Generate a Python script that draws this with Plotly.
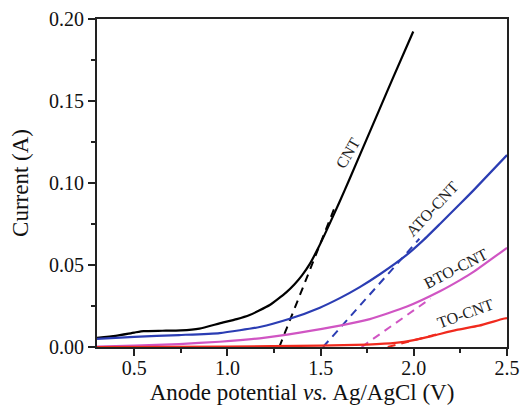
import plotly.graph_objects as go

# ---- data ----
cnt_x = [0.3, 0.4, 0.5, 0.55, 0.65, 0.75, 0.85, 0.958, 1.05, 1.119, 1.17, 1.227, 1.27, 1.317, 1.36, 1.40,
         1.442, 1.487, 1.532, 1.6, 1.657, 1.728, 1.818, 1.89, 1.997]
cnt_y = [0.0055, 0.0068, 0.0088, 0.0097, 0.0099, 0.0101, 0.0112, 0.0144, 0.0170, 0.0195, 0.0222, 0.0256,
         0.0292, 0.0335, 0.0383, 0.0437, 0.0507, 0.0603, 0.0711, 0.0881, 0.1029, 0.1217, 0.1455, 0.1646, 0.1924]

ato_x = [0.3, 0.5, 0.74, 0.958, 1.173, 1.334, 1.496, 1.603, 1.71, 1.82, 1.96, 2.05, 2.14, 2.25, 2.32, 2.5]
ato_y = [0.005, 0.0062, 0.0073, 0.0085, 0.0122, 0.0172, 0.0240, 0.0298, 0.0365, 0.0445, 0.0560, 0.0650,
         0.0750, 0.0875, 0.0955, 0.1170]

bto_x = [0.3, 0.5, 0.74, 0.958, 1.173, 1.388, 1.603, 1.764, 1.96, 2.14, 2.248, 2.32, 2.5]
bto_y = [0.0003, 0.0008, 0.0018, 0.0032, 0.0053, 0.0088, 0.0130, 0.0170, 0.0245, 0.0340, 0.0408, 0.0458, 0.0605]

to_x = [0.3, 1.0, 1.5, 1.75, 1.9, 2.0, 2.1, 2.23, 2.35, 2.48, 2.5]
to_y = [0.0, 0.0003, 0.0008, 0.0015, 0.0025, 0.0042, 0.0068, 0.0104, 0.013, 0.0172, 0.0176]

# tangent (onset) lines: [x_start, x_end], [y_start, y_end]
cnt_tan_x, cnt_tan_y = [1.278, 1.58], [0.0, 0.0864]
ato_tan_x, ato_tan_y = [1.513, 2.03], [0.0, 0.066]
bto_tan_x, bto_tan_y = [1.72, 2.09], [0.0, 0.0296]
to_tan_x, to_tan_y = [1.86, 2.15], [0.0, 0.0085]

labels = ["CNT", "ATO-CNT", "BTO-CNT", "TO-CNT"]
label_x = [1.645, 2.1, 2.225, 2.275]
label_y = [0.118, 0.0845, 0.048, 0.0207]
label_angle = [-60, -47, -27, -20]

colors = ["#000000", "#2b3db3", "#d055c3", "#f02a1e"]

fig = go.Figure()
series = [(cnt_x, cnt_y, cnt_tan_x, cnt_tan_y),
          (ato_x, ato_y, ato_tan_x, ato_tan_y),
          (bto_x, bto_y, bto_tan_x, bto_tan_y),
          (to_x, to_y, to_tan_x, to_tan_y)]
for (sx, sy, tx, ty), c, name in zip(series, colors, labels):
    fig.add_trace(go.Scatter(x=tx, y=ty, mode="lines", line=dict(color=c, width=2, dash="8px,6px"),
                             showlegend=False, name=name + " tangent"))
    fig.add_trace(go.Scatter(x=sx, y=sy, mode="lines", line=dict(color=c, width=2.2, shape="spline", smoothing=0.5),
                             showlegend=False, name=name))

for t, x, y, a in zip(labels, label_x, label_y, label_angle):
    fig.add_annotation(x=x, y=y, xref="x", yref="y", text=t, textangle=a, showarrow=False,
                       font=dict(family="Liberation Serif", size=16, color="#222"))

axis_common = dict(showline=True, linecolor="#222", linewidth=2, mirror=True, ticks="outside",
                   ticklen=7, tickwidth=1.5, tickcolor="#222", showgrid=False, zeroline=False,
                   automargin=False,
                   tickfont=dict(family="Liberation Serif", size=20, color="#111"))

fig.update_xaxes(range=[0.3, 2.5], dtick=0.5, tick0=0.5, tickformat=".1f", ticklabelstandoff=-5,
                 minor=dict(dtick=0.25, tick0=0.25, ticks="outside", ticklen=4, tickcolor="#222", tickwidth=1.5),
                 title=dict(text="Anode potential <i>vs.</i> Ag/AgCl (V)", standoff=6,
                            font=dict(family="Liberation Serif", size=23, color="#111")),
                 **axis_common)
fig.update_yaxes(range=[0, 0.2], dtick=0.05, tickformat=".2f",
                 minor=dict(dtick=0.025, ticks="outside", ticklen=4, tickcolor="#222", tickwidth=1.5),
                 title=dict(text="Current (A)", standoff=14,
                            font=dict(family="Liberation Serif", size=23, color="#111")),
                 **axis_common)

fig.update_layout(width=522, height=407, margin=dict(l=97, r=15, t=19, b=60),
                  plot_bgcolor="white", paper_bgcolor="white")

# remove the page's default body margin so the 522x407 figure fills the window exactly
fig.write_html("out.html", config={"displayModeBar": False},
               post_script="document.body.style.margin='0';document.body.style.overflow='hidden';")
